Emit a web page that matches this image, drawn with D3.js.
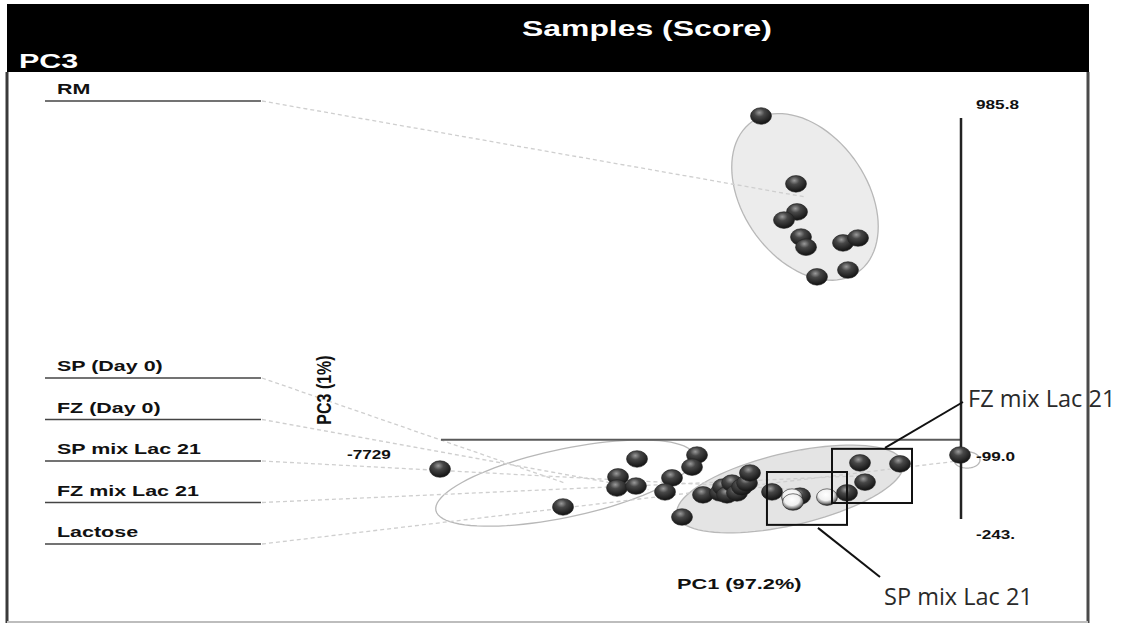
<!DOCTYPE html>
<html>
<head>
<meta charset="utf-8">
<script src="https://cdn.jsdelivr.net/npm/d3@7"></script>
<style>
    html, body { margin: 0; padding: 0; background: #fff; }
    svg { display: block; font-family: "Liberation Sans", Arial, sans-serif; }
</style>
</head>
<body>
<svg id="chart" width="1129" height="626"></svg>
<script>
// Legend order of the sample groups
const groups = ['RM', 'SP (Day 0)', 'FZ (Day 0)', 'SP mix Lac 21', 'FZ mix Lac 21', 'Lactose'];

// Scores [PC1, PC3]; a third value of 1 marks a highlighted sample
const rmScores = [[-265, 992], [551, 784], [575, 698], [271, 673], [668, 621], [785, 590], [1648, 603], [1998, 618], [1764, 520], [1041, 499]];
const spDay0Scores = [[-7752, -90], [-4883, -206], [-3157, -59], [-1758, -47], [-1874, -84]];
const fzDay0Scores = [[-3600, -114], [-3624, -148], [-3181, -142], [-2341, -117], [-2504, -160], [-2108, -237]];
const spMixScores = [[-1618, -169], [-1221, -163], [-1151, -145], [-1058, -169], [-941, -133], [-825, -163], [-708, -145], [-592, -133], [-522, -102], [-8, -160], [645, -173], [458, -176, 1], [481, -191, 1], [1274, -176, 1]];
const fzMixScores = [[1741, -163], [2044, -71], [2161, -130], [2977, -74]];
const lactoseScores = [[4377, -47]];

// Group ellipses: centre and the two semi-axes, in score units
const rmEllipse = { c: [761, 744], a: [1231, -231], b: [-1185, -109] };
const spDay0Ellipse = { c: [-4837, -133], a: [3011, 84], b: [165, -102] };
const spMixEllipse = { c: [411, -151], a: [2636, 80], b: [189, -108] };
const lactoseEllipse = { c: [4540, -62], a: [303, 0], b: [0, -25] };

// Axis extents and their labels
const pc1Range = [-7729, 4400];
const pc3Range = [-243, 985.8];
const pc1Label = '-7729';
const pc3Labels = ['985.8', '-99.0', '-243.'];

// Annotation boxes (score units) with their callout text
const callouts = [
    { label: 'FZ mix Lac 21', box: [[1391, -28], [3257, -194]] },
    { label: 'SP mix Lac 21', box: [[-126, -99], [1741, -261]] }
];

const series = [
    { name: groups[0], pts: rmScores, ell: rmEllipse },
    { name: groups[1], pts: spDay0Scores, ell: spDay0Ellipse },
    { name: groups[2], pts: fzDay0Scores, ell: null },
    { name: groups[3], pts: spMixScores, ell: spMixEllipse },
    { name: groups[4], pts: fzMixScores, ell: null },
    { name: groups[5], pts: lactoseScores, ell: lactoseEllipse }
];

const svg = d3.select('#chart');
const SX = 1.43; // the scanned figure is stretched horizontally

const x = d3.scaleLinear().domain(pc1Range).range([441, 961]);
const y = d3.scaleLinear().domain(pc3Range).range([519, 118]);

// stretched bold text helper
function label(sel, str, px, py, size, opts = {}) {
    const t = sel.append('text')
        .attr('x', px).attr('y', py)
        .attr('font-size', size)
        .attr('font-weight', opts.weight || 'bold')
        .attr('fill', opts.fill || '#111')
        .text(str);
    const w = t.node().getComputedTextLength();
    t.attr('textLength', w * (opts.sx || SX)).attr('lengthAdjust', 'spacingAndGlyphs');
    return t;
}

// gradients for the spheres
const defs = svg.append('defs');
const g1 = defs.append('radialGradient').attr('id', 'ball').attr('cx', '42%').attr('cy', '30%').attr('r', '70%');
g1.append('stop').attr('offset', '0%').attr('stop-color', '#9a9a9a');
g1.append('stop').attr('offset', '35%').attr('stop-color', '#474747');
g1.append('stop').attr('offset', '100%').attr('stop-color', '#121212');
const g2 = defs.append('radialGradient').attr('id', 'ballHi').attr('cx', '45%').attr('cy', '35%').attr('r', '65%');
g2.append('stop').attr('offset', '0%').attr('stop-color', '#ffffff');
g2.append('stop').attr('offset', '55%').attr('stop-color', '#f0f0f0');
g2.append('stop').attr('offset', '80%').attr('stop-color', '#8a8a8a');
g2.append('stop').attr('offset', '100%').attr('stop-color', '#1a1a1a');

// frame and header
svg.append('rect').attr('x', 7).attr('y', 4).attr('width', 1082).attr('height', 68).attr('fill', '#000');
svg.append('line').attr('x1', 7).attr('x2', 7).attr('y1', 72).attr('y2', 623).attr('stroke', '#3a3a3a').attr('stroke-width', 3);
svg.append('line').attr('x1', 1088).attr('x2', 1088).attr('y1', 72).attr('y2', 623).attr('stroke', '#4a4a4a').attr('stroke-width', 3);
svg.append('line').attr('x1', 7).attr('x2', 1088).attr('y1', 622).attr('y2', 622).attr('stroke', '#bdbdbd').attr('stroke-width', 2);

label(svg, 'Samples (Score)', 522, 36, 22, { fill: '#fff', sx: 1.45 });
label(svg, 'PC3', 19, 68, 21, { fill: '#fff', sx: 1.45 });

// ellipses
const ellLine = d3.line().curve(d3.curveLinearClosed);
function ellipsePath(e) {
    const pts = d3.range(0, 360, 4).map(deg => {
        const t = deg * Math.PI / 180;
        return [x(e.c[0] + e.a[0] * Math.cos(t) + e.b[0] * Math.sin(t)),
                y(e.c[1] + e.a[1] * Math.cos(t) + e.b[1] * Math.sin(t))];
    });
    return ellLine(pts);
}
const filled = { 'RM': '#ececec', 'SP mix Lac 21': '#e4e4e4' };
series.filter(s => s.ell).forEach(s => {
    svg.append('path')
        .attr('d', ellipsePath(s.ell))
        .attr('fill', filled[s.name] || 'none')
        .attr('stroke', '#b8b8b8')
        .attr('stroke-width', 1.3);
});

// legend with dashed connectors to each group
const legendY = groups.map((g, i) => i === 0 ? 101 : 378 + (i - 1) * 41.5);
series.forEach((s, i) => {
    const ly = legendY[i];
    const target = s.ell ? s.ell.c : [d3.mean(s.pts, d => d[0]), d3.mean(s.pts, d => d[1])];
    svg.append('line')
        .attr('x1', 262).attr('y1', ly)
        .attr('x2', x(target[0])).attr('y2', y(target[1]))
        .attr('stroke', '#cfcfcf').attr('stroke-width', 1.3)
        .attr('stroke-dasharray', '4 3');
    svg.append('line')
        .attr('x1', 45).attr('x2', 261).attr('y1', ly).attr('y2', ly)
        .attr('stroke', '#444').attr('stroke-width', 1.6);
    label(svg, s.name, 57, ly - 7, 15);
});

// axes
svg.append('line')
    .attr('x1', x(pc1Range[0])).attr('x2', x(pc1Range[1]))
    .attr('y1', y(0)).attr('y2', y(0))
    .attr('stroke', '#5a5a5a').attr('stroke-width', 2);
svg.append('line')
    .attr('x1', x(pc1Range[1])).attr('x2', x(pc1Range[1]))
    .attr('y1', y(pc3Range[0])).attr('y2', y(pc3Range[1]))
    .attr('stroke', '#222').attr('stroke-width', 2.5);

label(svg, pc1Label, 347, y(0) + 19, 12);
label(svg, pc3Labels[0], x(pc1Range[1]) + 15, y(pc3Range[1]) - 9, 12);
label(svg, pc3Labels[1], x(pc1Range[1]) + 15, y(0) + 21, 12);
label(svg, pc3Labels[2], x(pc1Range[1]) + 15, y(pc3Range[0]) + 20, 12);
label(svg, 'PC1 (97.2%)', 677, 589, 15, { sx: 1.45 });

const yTitle = svg.append('g').attr('transform', 'translate(331,390) scale(1.3,1) rotate(-90)');
yTitle.append('text')
    .attr('text-anchor', 'middle')
    .attr('font-size', 16).attr('font-weight', 'bold').attr('fill', '#111')
    .text('PC3 (1%)');

// samples
series.forEach(s => {
    svg.append('g').selectAll('ellipse')
        .data(s.pts)
        .join('ellipse')
        .attr('cx', d => x(d[0]))
        .attr('cy', d => y(d[1]))
        .attr('rx', 10.5).attr('ry', 8.3)
        .attr('fill', d => d[2] ? 'url(#ballHi)' : 'url(#ball)')
        .attr('stroke', '#222').attr('stroke-width', 0.6);
});

// annotation boxes and callouts
callouts.forEach((c, i) => {
    const x0 = x(c.box[0][0]), x1 = x(c.box[1][0]);
    const y0 = y(c.box[0][1]), y1 = y(c.box[1][1]);
    svg.append('rect')
        .attr('x', x0).attr('y', y0).attr('width', x1 - x0).attr('height', y1 - y0)
        .attr('fill', 'none').attr('stroke', '#111').attr('stroke-width', 2);
    let from, to, tx, ty;
    if (i === 0) {
        from = [x0 + 53, y0 - 1]; to = [963, 402]; tx = 968; ty = 407;
    } else {
        from = [x0 + 51, y1 + 3]; to = [880, 577]; tx = 884; ty = 605;
    }
    svg.append('line')
        .attr('x1', from[0]).attr('y1', from[1]).attr('x2', to[0]).attr('y2', to[1])
        .attr('stroke', '#111').attr('stroke-width', 2);
    svg.append('text')
        .attr('x', tx).attr('y', ty)
        .attr('font-family', '"Open Sans", sans-serif')
        .attr('font-size', 23.5).attr('fill', '#2a2a2a')
        .text(c.label);
});
</script>
</body>
</html>
